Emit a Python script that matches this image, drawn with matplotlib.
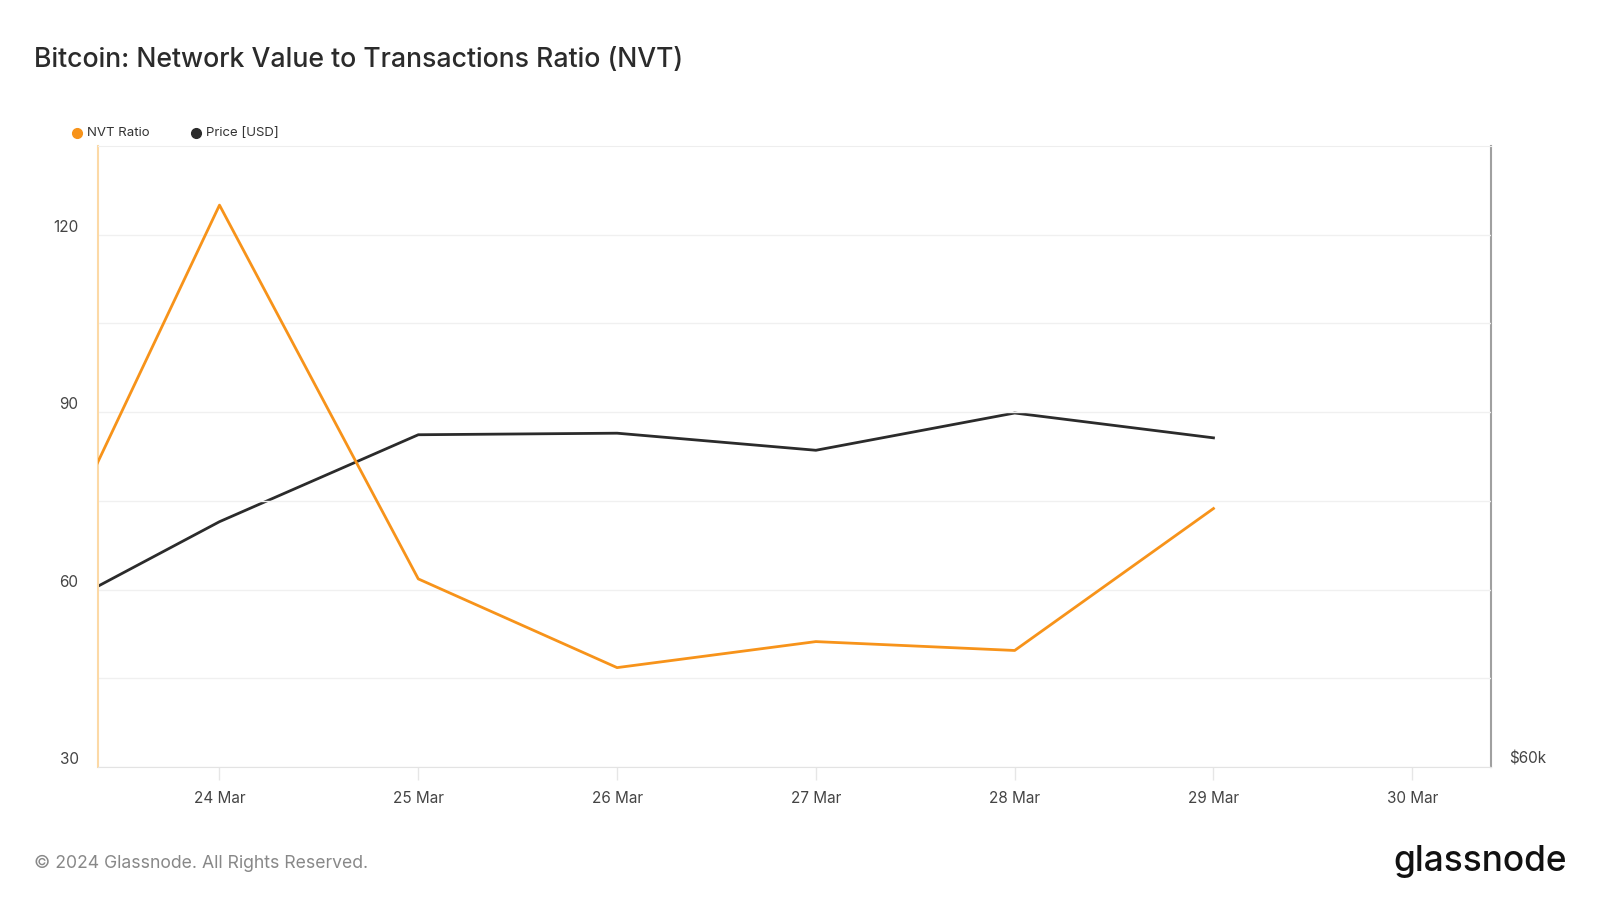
import pandas as pd
import numpy as np
import matplotlib
matplotlib.use('Agg')
import matplotlib.pyplot as plt
import matplotlib.dates as mdates
from matplotlib.lines import Line2D

plt.rcParams['font.family'] = ['Inter', 'DejaVu Sans']

# values
dates = pd.to_datetime(['2024-03-23', '2024-03-24', '2024-03-25', '2024-03-26',
                        '2024-03-27', '2024-03-28', '2024-03-29'])
nvt_ratio = [54.0, 125.0, 61.8, 46.8, 51.2, 49.7, 73.7]
price_usd = [64500, 67900, 70700, 70750, 70200, 71400, 70600]

x_start = pd.Timestamp('2024-03-23 09:20')
x_end = pd.Timestamp('2024-03-30 09:30')
tick_days = pd.date_range('2024-03-24', '2024-03-30', freq='D')

orange = '#f7931a'
dark = '#2b2b2b'

fig = plt.figure(figsize=(16, 9), dpi=100)
ax = fig.add_axes([0.06125, 0.1478, 0.8706, 0.69])
ax2 = ax.twinx()

# price on right axis (drawn first, under NVT)
ax2.plot(dates, price_usd, color=dark, lw=2, zorder=2)
ax2.set_ylim(60000, 80000)
ax2.set_yticks([60000])
ax2.set_yticklabels(['$60k'])

ax.plot(dates, nvt_ratio, color=orange, lw=2, zorder=3)
ax.set_zorder(ax2.get_zorder() + 1)
ax.patch.set_visible(False)

ax.set_xlim(x_start, x_end)
ax.set_ylim(30, 135)
ax.set_yticks([30, 60, 90, 120])
ax.set_yticks([45, 75, 105], minor=True)
ax.yaxis.grid(True, which='both', color='#f0f0f0', lw=1)
ax.set_axisbelow(True)
ax.tick_params(axis='y', which='both', length=0, pad=14, labelsize=11, labelcolor='#444444')
for lab in ax.get_yticklabels():
    lab.set_va('bottom')

ax.set_xticks(tick_days)
ax.xaxis.set_major_formatter(mdates.DateFormatter('%-d %b'))
ax.tick_params(axis='x', length=9, color='#e6e6e6', width=1, pad=8,
               labelsize=11, labelcolor='#444444')

ax2.tick_params(axis='y', length=0, pad=13, labelsize=11, labelcolor='#444444')
for lab in ax2.get_yticklabels():
    lab.set_va('bottom')

for a in (ax, ax2):
    for s in a.spines.values():
        s.set_visible(False)
ax.spines['left'].set_visible(True)
ax.spines['left'].set_color('#fcd9a6')
ax.spines['left'].set_linewidth(1.5)
ax.spines['top'].set_visible(True)
ax.spines['top'].set_color('#eeeeee')
ax.spines['bottom'].set_visible(True)
ax.spines['bottom'].set_color('#e3e3e3')
ax2.spines['right'].set_visible(True)
ax2.spines['right'].set_color('#a0a0a0')
ax2.spines['right'].set_linewidth(1.5)

# title, legend, footer
fig.text(0.021, 0.933, 'Bitcoin: Network Value to Transactions Ratio (NVT)',
         fontsize=19.2, color='#2b2b2b', va='center', ha='left', fontweight='medium')

fig.add_artist(Line2D([0.0481], [0.852], marker='o', ms=7, color=orange,
                      transform=fig.transFigure))
fig.text(0.0544, 0.852, 'NVT Ratio', fontsize=9.5, color='#333333', va='center')
fig.add_artist(Line2D([0.1225], [0.852], marker='o', ms=7, color=dark,
                      transform=fig.transFigure))
fig.text(0.1288, 0.852, 'Price [USD]', fontsize=9.5, color='#333333', va='center')

fig.text(0.021, 0.041, '\u00a9 2024 Glassnode. All Rights Reserved.',
         fontsize=12.7, color='#888888', va='center')
fig.text(0.979, 0.043, 'glassnode', fontsize=25.4, color='#111111', va='center',
         ha='right', fontweight='medium')

fig.savefig('out.png', dpi=100)
